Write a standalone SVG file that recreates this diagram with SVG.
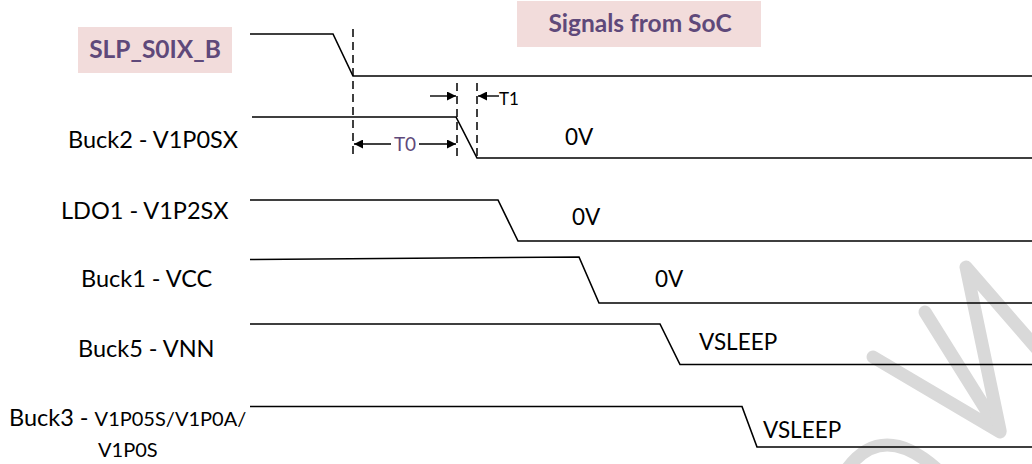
<svg xmlns="http://www.w3.org/2000/svg" width="1032" height="464" viewBox="0 0 1032 464">
<defs>
<style>
.wave{fill:none;stroke:#000;stroke-width:1.6;stroke-linejoin:miter}
.dash{fill:none;stroke:#000;stroke-width:1.5;stroke-dasharray:8 5}
.arr{fill:none;stroke:#000;stroke-width:1.4}
.lbl{font-family:Lato,"Liberation Sans",sans-serif;font-size:23.5px;fill:#000}
.val{font-family:Lato,"Liberation Sans",sans-serif;font-size:22.5px;fill:#000}
.small{font-size:20px}
.tag{fill:#f2dcdb}
.tagtxt{font-family:Lato,"Liberation Sans",sans-serif;font-size:24.5px;font-weight:bold;fill:#5f497a;text-anchor:middle}
.wm{fill:none;stroke:#d9d9d9;stroke-width:13;stroke-linecap:round;stroke-linejoin:round}
</style>
<marker id="ah" viewBox="0 0 10 10" refX="10" refY="5" markerWidth="9" markerHeight="9" markerUnits="userSpaceOnUse" orient="auto-start-reverse">
<path d="M0,0 L10,5 L0,10 z" fill="#000"/>
</marker>
</defs>
<rect width="1032" height="464" fill="#fff"/>

<g id="watermark">
<path class="wm" d="M873,357 L1000,432 L925,312"/>
<path class="wm" d="M1000,430 L966,267 L1045,358"/>
<path class="wm" d="M845,472 Q882,418 940,472"/>
</g>

<g id="title">
<rect class="tag" x="517" y="1" width="244" height="46"/>
<text class="tagtxt" x="640" y="32">Signals from SoC</text>
</g>

<g id="slp_s0ix_b">
<rect class="tag" x="78" y="27" width="154" height="46"/>
<text class="tagtxt" x="155" y="58">SLP_S0IX_B</text>
<polyline class="wave" points="250,34 333,34 353,76 1032,76"/>
</g>

<g id="buck2">
<text class="lbl" x="68" y="148">Buck2 - V1P0SX</text>
<polyline class="wave" points="252,117 456,117 477,158 1032,158"/>
<text class="val" x="565" y="145">0V</text>
</g>

<g id="ldo1">
<text class="lbl" x="61" y="219">LDO1 - V1P2SX</text>
<polyline class="wave" points="250,200 498,200 518,241 1032,241"/>
<text class="val" x="572" y="225">0V</text>
</g>

<g id="buck1">
<text class="lbl" x="81" y="287">Buck1 - VCC</text>
<polyline class="wave" points="250,259.5 579,257 599,303 1032,303"/>
<text class="val" x="655" y="287">0V</text>
</g>

<g id="buck5">
<text class="lbl" x="78" y="357">Buck5 - VNN</text>
<polyline class="wave" points="250,324 660,324 680,364.5 1032,364.5"/>
<text class="val" x="699" y="350">VSLEEP</text>
</g>

<g id="buck3">
<text class="lbl" x="9" y="426">Buck3 - <tspan class="small">V1P05S/V1P0A/</tspan></text>
<text class="lbl small" x="98" y="457">V1P0S</text>
<polyline class="wave" points="250,406.5 742,406.5 757,447 1032,447"/>
<text class="val" x="763" y="438">VSLEEP</text>
</g>

<g id="connectors">
<line class="dash" x1="353" y1="29" x2="353" y2="158"/>
<line class="dash" x1="457" y1="83" x2="457" y2="158"/>
<line class="dash" x1="477" y1="83" x2="477" y2="158"/>
<line class="arr" x1="430" y1="96" x2="456" y2="96" marker-end="url(#ah)"/>
<line class="arr" x1="499" y1="96" x2="478" y2="96" marker-end="url(#ah)"/>
<line class="arr" x1="391" y1="144" x2="354" y2="144" marker-end="url(#ah)"/>
<line class="arr" x1="419" y1="144" x2="456" y2="144" marker-end="url(#ah)"/>
<text class="val" x="499" y="105" style="font-size:17px">T1</text>
<text class="val" x="405" y="151" style="font-size:19px;fill:#5f497a;text-anchor:middle">T0</text>
</g>
</svg>
